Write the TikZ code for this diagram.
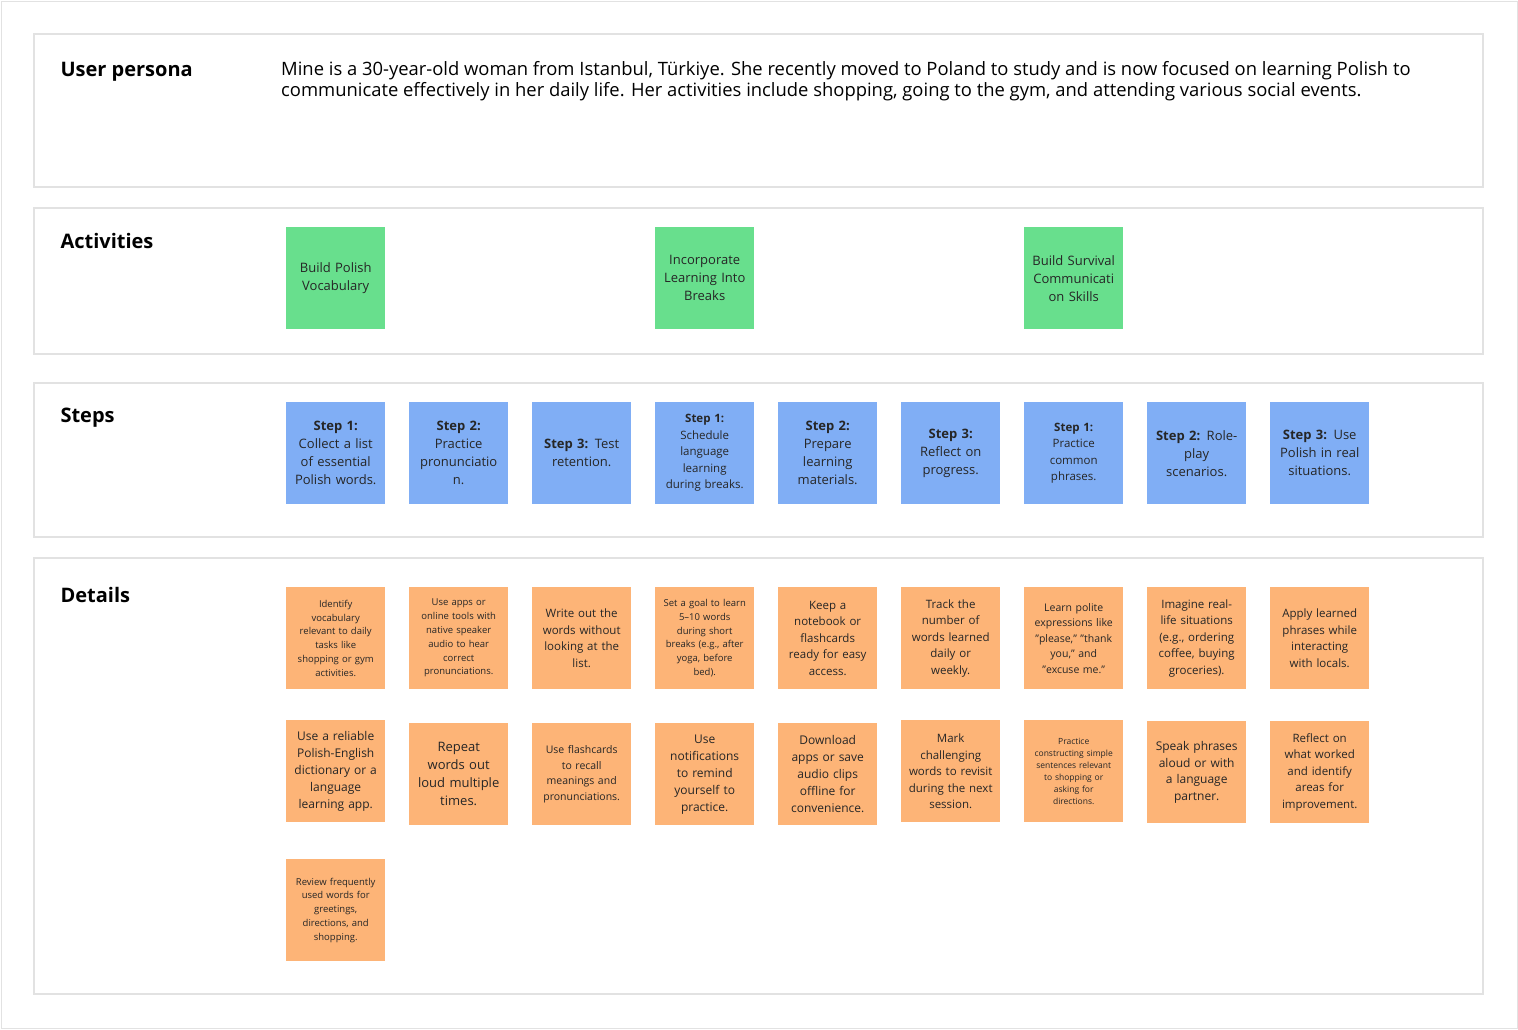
\documentclass[tikz,border=0pt]{standalone}
\usepackage{fontspec}
\setmainfont{Open Sans}
\usetikzlibrary{positioning}
\definecolor{actgreen}{HTML}{68DF8D}
\definecolor{stepblue}{HTML}{80AEF5}
\definecolor{detorange}{HTML}{FDB477}
\definecolor{panelline}{HTML}{E2E2E2}
\tikzset{
  panel/.style={draw=panelline,line width=1.2pt,fill=white},
  rowlabel/.style={anchor=west,font=\fontsize{20}{24}\selectfont\bfseries},
  note/.style={anchor=north west,minimum width=99pt,minimum height=102pt,text width=97pt,
    align=center,inner sep=0pt,font=\fontsize{13}{18}\selectfont,text=black!85},
  act/.style={note,fill=actgreen},
  stp/.style={note,fill=stepblue},
  det/.style={note,fill=detorange},
  small/.style={font=\fontsize{11.5}{16.5}\selectfont},
  tiny/.style={font=\fontsize{9.5}{13.8}\selectfont}
}
\begin{document}
\begin{tikzpicture}[x=1pt,y=-1pt]
  \useasboundingbox[fill=white] (0,0) rectangle (1518,1029);
  \draw[panelline] (1,1) rectangle (1517,1028);
  % panels
  \draw[panel] (34,34) rectangle (1483,187);
  \draw[panel] (34,208) rectangle (1483,354);
  \draw[panel] (34,383) rectangle (1483,537);
  \draw[panel] (34,558) rectangle (1483,994);
  \node[rowlabel] (lpersona) at (57,72) {User persona};
  \node[rowlabel] (lact) at (57,241) {Activities};
  \node[rowlabel] (lsteps) at (57,418) {Steps};
  \node[rowlabel] (ldet) at (57,595) {Details};
  \node[anchor=north west,inner sep=0pt,align=left,font=\fontsize{18.4}{21.5}\selectfont]
    (persona) at (281,61) {Mine is a 30-year-old woman from Istanbul, Türkiye. She recently moved to Poland to study and is now focused on learning Polish to\\communicate effectively in her daily life. Her activities include shopping, going to the gym, and attending various social events.};
  % activities
  \node[act] (a1) at (286,227) {Build Polish\\Vocabulary};
  \node[act] (a2) at (655,227) {Incorporate\\Learning Into\\Breaks};
  \node[act] (a3) at (1024,227) {Build Survival\\Communicati\\on Skills};
  % steps
  \node[stp] (s1) at (286,402) {\textbf{Step 1:}\\Collect a list\\of essential\\Polish words.};
  \node[stp] (s2) at (409,402) {\textbf{Step 2:}\\Practice\\pronunciatio\\n.};
  \node[stp] (s3) at (532,402) {\textbf{Step 3:} Test\\retention.};
  \node[stp,small] (s4) at (655,402) {\textbf{Step 1:}\\Schedule\\language\\learning\\during breaks.};
  \node[stp] (s5) at (778,402) {\textbf{Step 2:}\\Prepare\\learning\\materials.};
  \node[stp] (s6) at (901,402) {\textbf{Step 3:}\\Reflect on\\progress.};
  \node[stp,small] (s7) at (1024,402) {\textbf{Step 1:}\\Practice\\common\\phrases.};
  \node[stp] (s8) at (1147,402) {\textbf{Step 2:} Role-\\play\\scenarios.};
  \node[stp] (s9) at (1270,402) {\textbf{Step 3:} Use\\Polish in real\\situations.};
  % details, first row
  \node[det,tiny] (d11) at (286,587) {Identify\\vocabulary\\relevant to daily\\tasks like\\shopping or gym\\activities.};
  \node[det,tiny] (d12) at (409,587) {Use apps or\\online tools with\\native speaker\\audio to hear\\correct\\pronunciations.};
  \node[det,small] (d13) at (532,587) {Write out the\\words without\\looking at the\\list.};
  \node[det,tiny] (d14) at (655,587) {Set a goal to learn\\5--10 words\\during short\\breaks (e.g., after\\yoga, before\\bed).};
  \node[det,small] (d15) at (778,587) {Keep a\\notebook or\\flashcards\\ready for easy\\access.};
  \node[det,small] (d16) at (901,587) {Track the\\number of\\words learned\\daily or\\weekly.};
  \node[det,tiny,font=\fontsize{10.5}{15.5}\selectfont] (d17) at (1024,587) {Learn polite\\expressions like\\"please," "thank\\you," and\\"excuse me."};
  \node[det,small] (d18) at (1147,587) {Imagine real-\\life situations\\(e.g., ordering\\coffee, buying\\groceries).};
  \node[det,small] (d19) at (1270,587) {Apply learned\\phrases while\\interacting\\with locals.};
  % details, second row
  \node[det,font=\fontsize{12}{17}\selectfont] (d21) at (286,720) {Use a reliable\\Polish-English\\dictionary or a\\language\\learning app.};
  \node[det] (d22) at (409,723) {Repeat\\words out\\loud multiple\\times.};
  \node[det,tiny,font=\fontsize{10.5}{15.5}\selectfont] (d23) at (532,723) {Use flashcards\\to recall\\meanings and\\pronunciations.};
  \node[det,font=\fontsize{12}{17}\selectfont] (d24) at (655,723) {Use\\notifications\\to remind\\yourself to\\practice.};
  \node[det,font=\fontsize{12}{17}\selectfont] (d25) at (778,723) {Download\\apps or save\\audio clips\\offline for\\convenience.};
  \node[det,small] (d26) at (901,720) {Mark\\challenging\\words to revisit\\during the next\\session.};
  \node[det,font=\fontsize{8.5}{12}\selectfont] (d27) at (1024,720) {Practice\\constructing simple\\sentences relevant\\to shopping or\\asking for\\directions.};
  \node[det,font=\fontsize{12}{16.5}\selectfont] (d28) at (1147,721) {Speak phrases\\aloud or with\\a language\\partner.};
  \node[det,small] (d29) at (1270,721) {Reflect on\\what worked\\and identify\\areas for\\improvement.};
  % details, third row
  \node[det,tiny] (d31) at (286,859) {Review frequently\\used words for\\greetings,\\directions, and\\shopping.};
\end{tikzpicture}
\end{document}
